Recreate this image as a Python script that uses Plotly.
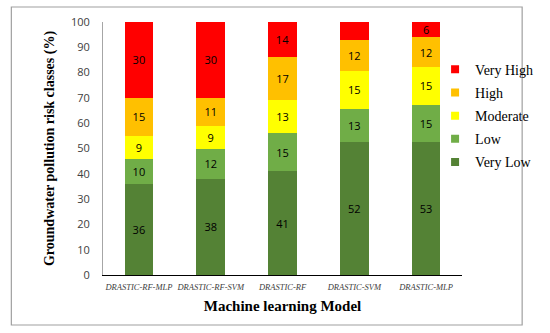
import plotly.graph_objects as go

models = ["DRASTIC-RF-MLP", "DRASTIC-RF-SVM", "DRASTIC-RF", "DRASTIC-SVM", "DRASTIC-MLP"]
very_low = [36, 38, 41, 52, 53]
low = [10, 12, 15, 13, 15]
moderate = [9, 9, 13, 15, 15]
high = [15, 11, 17, 12, 12]
very_high = [30, 30, 14, 7, 6]
y_ticks = [0, 10, 20, 30, 40, 50, 60, 70, 80, 90, 100]

series = [
    ("Very Low", very_low, "#548235"),
    ("Low", low, "#70AD47"),
    ("Moderate", moderate, "#FFFF00"),
    ("High", high, "#FFC000"),
    ("Very High", very_high, "#FF0000"),
]

fig = go.Figure()
for i, (name, vals, color) in enumerate(series):
    fig.add_trace(go.Bar(
        x=models, y=vals, name=name, legendgroup=name, showlegend=False, width=0.4,
        marker=dict(color=color, line=dict(width=0)),
        text=[str(v) for v in vals], textposition="inside", insidetextanchor="middle",
        constraintext="none", cliponaxis=False, textangle=0,
        textfont=dict(family="Open Sans, Liberation Sans, sans-serif", size=11, color="black"),
        texttemplate="%{text}", hoverinfo="skip",
    ))
    # legend entry with small square marker
    fig.add_trace(go.Scatter(
        x=[None], y=[None], mode="markers", name=name, legendgroup=name,
        legendrank=len(series) - i, showlegend=True,
        marker=dict(symbol="square", size=8, color=color), hoverinfo="skip",
    ))

fig.update_layout(
    width=550, height=333,
    barmode="stack", barnorm="percent",
    paper_bgcolor="white", plot_bgcolor="white",
    margin=dict(l=103, r=71, t=22, b=58),
    uniformtext=dict(mode="show", minsize=8),
    showlegend=True,
    legend=dict(
        x=0.925, xanchor="left", y=0.875, yanchor="top",
        traceorder="grouped", tracegroupgap=2,
        font=dict(family="Liberation Serif, serif", size=14, color="black"),
        itemwidth=30,
        bgcolor="rgba(0,0,0,0)",
    ),
    shapes=[dict(type="rect", xref="paper", yref="paper",
                 x0=-96/376, x1=439/376, y0=-50/253, y1=268/253,
                 line=dict(color="#A0A0A0", width=1.2), fillcolor="rgba(0,0,0,0)")],
)

fig.update_xaxes(
    showline=True, linecolor="black", linewidth=1.2, ticks="", tickangle=0, automargin=False,
    ticklabelstandoff=4,
    tickfont=dict(family="Liberation Serif, serif", size=8.5, color="#404040", style="italic"),
    title=dict(text="<b>Machine learning Model</b>", standoff=9,
               font=dict(family="Liberation Serif, serif", size=15, color="black")),
)
fig.update_yaxes(
    range=[0, 100], tickvals=y_ticks, showgrid=False, zeroline=False, automargin=False,
    showline=True, linecolor="#A6A6A6", linewidth=1, ticks="", ticklabelstandoff=10,
    tickfont=dict(family="Open Sans, Liberation Sans, sans-serif", size=11, color="#404040"),
    title=dict(text="<b>Groundwater pollution risk classes (%)</b>", standoff=13,
               font=dict(family="Liberation Serif, serif", size=14, color="black")),
)

fig.write_html("out.html", config={"displayModeBar": False},
               post_script="document.body.style.margin='0';")
